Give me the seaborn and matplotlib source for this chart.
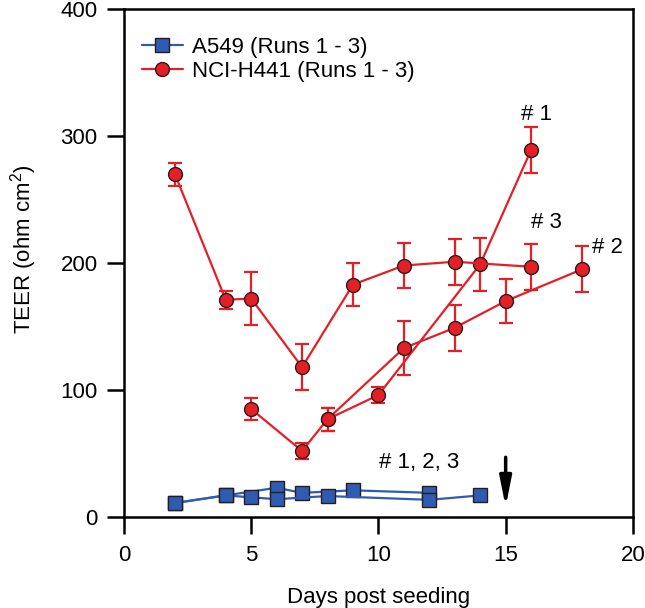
import matplotlib
matplotlib.use('Agg')
import matplotlib.pyplot as plt
from matplotlib.lines import Line2D
import seaborn as sns
import pandas as pd

# A549 (runs 1 - 3), TEER in ohm cm^2
a549_run1_days = [2, 4, 6, 7, 9, 12]
a549_run1_teer = [11, 17, 23, 19, 21, 19]
a549_run2_days = [2, 4, 5, 6, 8, 12, 14]
a549_run2_teer = [11, 17, 15.5, 14, 16.5, 13.5, 17]

# NCI-H441 (runs 1 - 3), mean and error
h441_run1_days = [5, 7, 8, 10, 14, 16]
h441_run1_teer = [85, 52, 77, 96, 199, 289]
h441_run1_err = [9, 6, 9, 6.5, 21, 18]
h441_run2_days = [8, 11, 13, 15, 18]
h441_run2_teer = [77, 133, 149, 170, 195]
h441_run2_err = [9, 21, 18, 17, 18]
h441_run3_days = [2, 4, 5, 7, 9, 11, 13, 16]
h441_run3_teer = [270, 171, 172, 118, 183, 198, 201, 197]
h441_run3_err = [9, 7, 21, 18, 17, 18, 18, 18]

cells = ['A549', 'NCI-H441']
legend_labels = ['A549 (Runs 1 - 3)', 'NCI-H441 (Runs 1 - 3)']

blue = '#2f5cb3'
red = '#e41f26'
edge = '#2a1c1c'

rows = []
def add(cell, run, days, teer, err=None):
    for i in range(len(days)):
        rows.append({'cell': cell, 'run': run, 'day': days[i], 'teer': teer[i],
                     'err': err[i] if err is not None else 0})

add('A549', 'a1', a549_run1_days, a549_run1_teer)
add('A549', 'a2', a549_run2_days, a549_run2_teer)
add('NCI-H441', 'h1', h441_run1_days, h441_run1_teer, h441_run1_err)
add('NCI-H441', 'h2', h441_run2_days, h441_run2_teer, h441_run2_err)
add('NCI-H441', 'h3', h441_run3_days, h441_run3_teer, h441_run3_err)
df = pd.DataFrame(rows)

sns.set_style('ticks', {'text.color': 'black', 'axes.labelcolor': 'black',
                        'xtick.color': 'black', 'ytick.color': 'black',
                        'axes.edgecolor': 'black'})
plt.rcParams['font.family'] = ['Liberation Sans', 'DejaVu Sans']
plt.rcParams['mathtext.default'] = 'regular'

fig = plt.figure(figsize=(6.45, 6.08), dpi=100)
ax = fig.add_axes([0.1922, 0.1497, 0.789, 0.8355])

# error bars first so the markers sit on top
h441 = df[df['cell'] == 'NCI-H441']
ax.errorbar(h441['day'], h441['teer'], yerr=h441['err'], fmt='none', ecolor=red,
            elinewidth=1.6, capsize=5, capthick=1.6, zorder=1)

sns.lineplot(data=df, x='day', y='teer', hue='cell', units='run', estimator=None,
             style='cell', markers={'A549': 's', 'NCI-H441': 'o'}, dashes=False,
             palette={'A549': blue, 'NCI-H441': red}, markersize=10,
             markeredgecolor=edge, markeredgewidth=1, linewidth=1.6,
             legend=False, ax=ax)

ax.set_xlim(0, 20)
ax.set_ylim(0, 400)
ax.set_xticks([0, 5, 10, 15, 20])
ax.set_yticks([0, 100, 200, 300, 400])
ax.tick_params(direction='out', length=12, width=1.8, pad=7, labelsize=16,
               top=False, right=False, colors='black')
ax.tick_params(axis='x', pad=8)
for s in ax.spines.values():
    s.set_linewidth(1.8)
    s.set_color('black')

ax.set_xlabel('Days post seeding', fontsize=16, labelpad=15, color='black')
ax.set_ylabel('TEER (ohm cm$^{2}$)', fontsize=16, color='black')
ax.yaxis.set_label_coords(-0.166, 0.528)

ax.text(16.23, 317, '# 1', ha='center', va='center', fontsize=16, color='black')
ax.text(16.6, 232, '# 3', ha='center', va='center', fontsize=16, color='black')
ax.text(19.0, 212, '# 2', ha='center', va='center', fontsize=16, color='black')
ax.text(11.6, 43, '# 1, 2, 3', ha='center', va='center', fontsize=16, color='black')

ax.annotate('', xy=(15, 8), xytext=(15, 47),
            arrowprops=dict(arrowstyle='-|>,head_width=0.22,head_length=1.1',
                            lw=2.5, color='black', mutation_scale=16,
                            shrinkA=0, shrinkB=0))

handles = [Line2D([], [], color=blue, marker='s', markersize=10, markerfacecolor=blue,
                  markeredgecolor=edge, markeredgewidth=1, lw=1.6),
           Line2D([], [], color=red, marker='o', markersize=10, markerfacecolor=red,
                  markeredgecolor=edge, markeredgewidth=1, lw=1.6)]
leg = ax.legend(handles, legend_labels, loc='upper left', bbox_to_anchor=(0.035, 0.945),
                frameon=False, fontsize=16, borderpad=0, borderaxespad=0,
                handlelength=1.85, handletextpad=0.4, labelspacing=0.13)
for t in leg.get_texts():
    t.set_color('black')

fig.savefig('out.png', dpi=100)
